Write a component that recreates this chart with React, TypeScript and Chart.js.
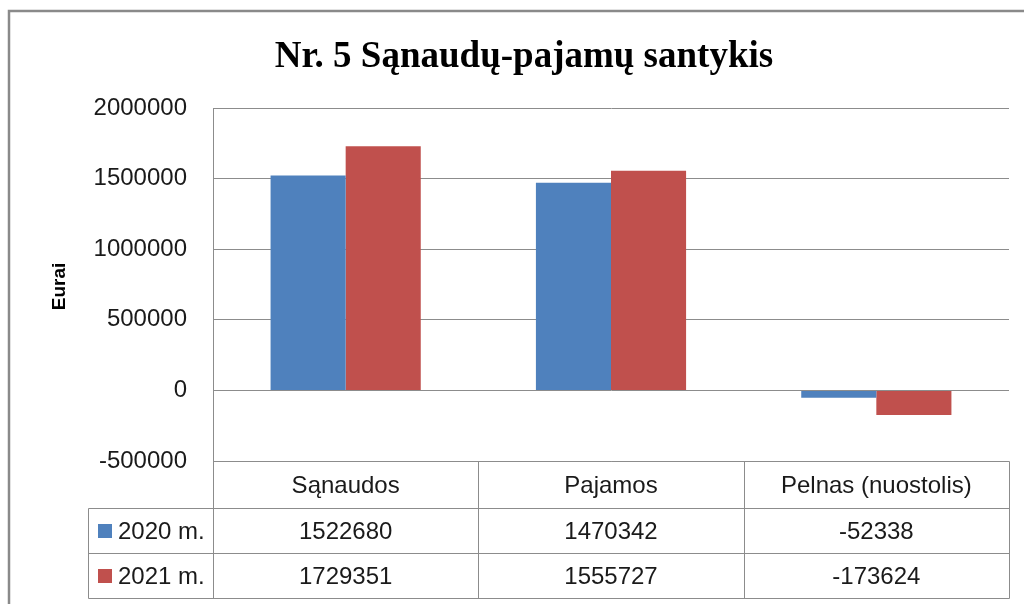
import React, { useEffect, useRef } from "react";
import { Chart, registerables } from "chart.js";

Chart.register(...registerables);

const chartTitle = "Nr. 5 Sąnaudų-pajamų santykis";
const yAxisTitle = "Eurai";
const categories = ["Sąnaudos", "Pajamos", "Pelnas (nuostolis)"];
const seriesNames = ["2020 m.", "2021 m."];
const values2020 = [1522680, 1470342, -52338];
const values2021 = [1729351, 1555727, -173624];
const yTickValues = [-500000, 0, 500000, 1000000, 1500000, 2000000];
const seriesColors = ["#4F81BD", "#C0504D"];

const GRID = "#8c8c8c";
const SANS = "'Liberation Sans', Arial, sans-serif";
const SERIF = "'Liberation Serif', 'Times New Roman', serif";

const decorPlugin = {
  id: "decor",
  beforeDraw(chart: any) {
    const { ctx, width, height } = chart;
    ctx.save();
    ctx.fillStyle = "#ffffff";
    ctx.fillRect(0, 0, width, height);
    // outer frame
    ctx.strokeStyle = "#8a8a8a";
    ctx.lineWidth = 2.5;
    ctx.strokeRect(9, 11, width + 20, height + 20);
    ctx.restore();
  },
  afterDraw(chart: any) {
    const { ctx, chartArea } = chart;
    const xs = chart.scales.x;
    const ys = chart.scales.y;
    ctx.save();

    // title
    ctx.fillStyle = "#000";
    ctx.font = `bold 37px ${SERIF}`;
    ctx.textAlign = "center";
    ctx.textBaseline = "alphabetic";
    ctx.fillText(chartTitle, 524, 67);

    // y axis title
    ctx.save();
    ctx.translate(65, (ys.getPixelForValue(yTickValues[0]) + ys.getPixelForValue(yTickValues[yTickValues.length - 1])) / 2 + 2);
    ctx.rotate(-Math.PI / 2);
    ctx.font = `bold 19px ${SANS}`;
    ctx.textAlign = "center";
    ctx.textBaseline = "alphabetic";
    ctx.fillText(yAxisTitle, 0, 0);
    ctx.restore();

    // data table
    const top = Math.round(chartArea.bottom) + 0.5;
    const rowH = [47, 45, 45];
    const rows = [top, top + rowH[0], top + rowH[0] + rowH[1], top + rowH[0] + rowH[1] + rowH[2]];
    const legendLeft = 88.5;
    const n = categories.length;
    const catW = (xs.getPixelForValue(1) - xs.getPixelForValue(0));
    const bounds: number[] = [];
    for (let i = 0; i < n; i++) bounds.push(Math.round(xs.getPixelForValue(i) - catW / 2) + 0.5);
    bounds.push(Math.round(xs.getPixelForValue(n - 1) + catW / 2) + 0.5);
    const left = bounds[0];
    const right = bounds[n];

    ctx.strokeStyle = GRID;
    ctx.lineWidth = 1;
    ctx.beginPath();
    ctx.moveTo(left, rows[0]); ctx.lineTo(right, rows[0]);
    for (let r = 1; r < rows.length; r++) {
      ctx.moveTo(legendLeft, rows[r]); ctx.lineTo(right, rows[r]);
    }
    for (const b of bounds) { ctx.moveTo(b, rows[0]); ctx.lineTo(b, rows[3]); }
    ctx.moveTo(legendLeft, rows[1]); ctx.lineTo(legendLeft, rows[3]);
    ctx.stroke();

    ctx.fillStyle = "#1a1a1a";
    ctx.font = `24px ${SANS}`;
    ctx.textAlign = "center";
    ctx.textBaseline = "middle";
    categories.forEach((c, i) => {
      ctx.fillText(c, xs.getPixelForValue(i), (rows[0] + rows[1]) / 2 + 1);
    });
    const series = [values2020, values2021];
    series.forEach((vals, s) => {
      const cy = (rows[s + 1] + rows[s + 2]) / 2 + 1;
      vals.forEach((v, i) => {
        ctx.textAlign = "center";
        ctx.fillText(String(v), xs.getPixelForValue(i), cy);
      });
      ctx.fillStyle = seriesColors[s];
      ctx.fillRect(98, cy - 8, 14, 14);
      ctx.fillStyle = "#1a1a1a";
      ctx.textAlign = "left";
      ctx.fillText(seriesNames[s], 118, cy);
    });

    ctx.restore();
  },
};

export default function App() {
  const ref = useRef<HTMLCanvasElement | null>(null);
  useEffect(() => {
    if (!ref.current) return;
    const chart = new Chart(ref.current, {
      type: "bar",
      data: {
        labels: categories,
        datasets: [
          { label: seriesNames[0], data: values2020, backgroundColor: seriesColors[0], borderWidth: 0 },
          { label: seriesNames[1], data: values2021, backgroundColor: seriesColors[1], borderWidth: 0 },
        ],
      },
      options: {
        responsive: false,
        animation: false,
        events: [],
        layout: { padding: { top: 108, bottom: 143, right: 15, left: 0 } },
        datasets: { bar: { categoryPercentage: 0.566, barPercentage: 1.0 } },
        plugins: { legend: { display: false }, tooltip: { enabled: false }, title: { display: false } },
        scales: {
          x: { display: false },
          y: {
            min: yTickValues[0],
            max: yTickValues[yTickValues.length - 1],
            afterFit: (scale: any) => { scale.width = 213; },
            afterBuildTicks: (scale: any) => { scale.ticks = yTickValues.map((v) => ({ value: v })); },
            ticks: {
              callback: (v: any) => String(v),
              color: "#1a1a1a",
              font: { family: SANS, size: 24 },
              padding: 26,
            },
            grid: { color: GRID, lineWidth: 1, drawTicks: false },
            border: { display: true, color: GRID, width: 1 },
          },
        },
      },
      plugins: [decorPlugin],
    });
    return () => chart.destroy();
  }, []);
  return (
    <div style={{ position: "absolute", left: 0, top: 0, width: 1024, height: 604 }}>
      <canvas ref={ref} width={1024} height={604} />
    </div>
  );
}
